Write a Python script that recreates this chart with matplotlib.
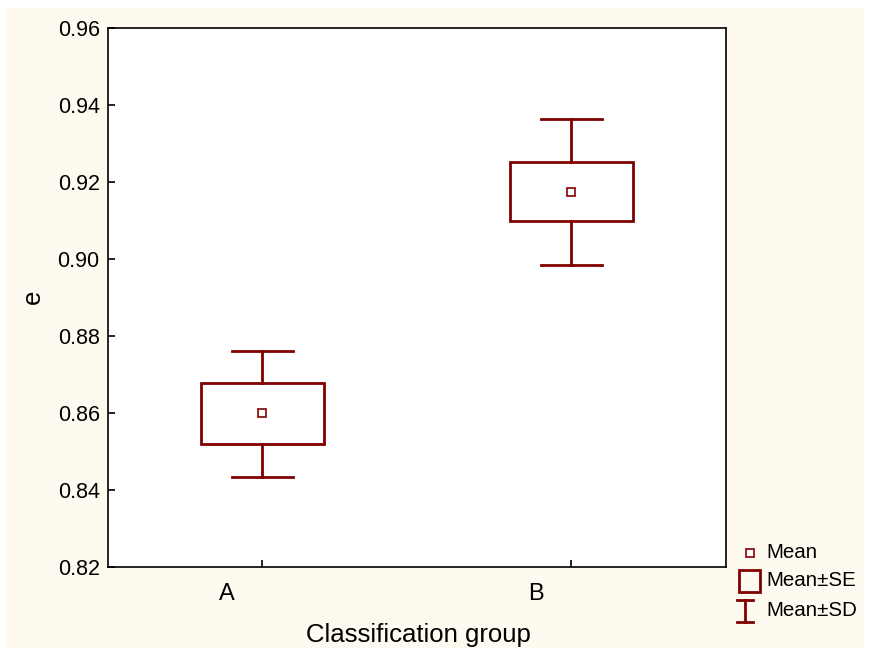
import matplotlib.pyplot as plt
from matplotlib.patches import Rectangle
from matplotlib.lines import Line2D

groups = ["A", "B"]
means = [0.8600, 0.9174]
se_low = [0.8520, 0.9099]
se_high = [0.8678, 0.9252]
sd_low = [0.8434, 0.8985]
sd_high = [0.8762, 0.9364]

red = "#800000"
bg = "#fffaf0"

plt.rcParams["font.family"] = ["Liberation Sans", "DejaVu Sans"]

fig = plt.figure(figsize=(8.7, 6.54), dpi=100)
fig.patch.set_facecolor("white")
# cream panel behind everything
fig.patches.append(Rectangle((6 / 870, 6 / 654), 858 / 870, 640 / 654, transform=fig.transFigure,
                             facecolor=bg, edgecolor="none", zorder=-10))

ax = fig.add_axes([108 / 870, 1 - 567 / 654, 618 / 870, 539 / 654])
ax.set_facecolor("white")

box_w = 0.4
cap_w = 0.2
for i in range(len(groups)):
    # SD whiskers
    ax.plot([i, i], [sd_low[i], se_low[i]], color=red, lw=2)
    ax.plot([i, i], [se_high[i], sd_high[i]], color=red, lw=2)
    ax.plot([i - cap_w / 2, i + cap_w / 2], [sd_low[i], sd_low[i]], color=red, lw=2)
    ax.plot([i - cap_w / 2, i + cap_w / 2], [sd_high[i], sd_high[i]], color=red, lw=2)
    # SE box
    ax.add_patch(Rectangle((i - box_w / 2, se_low[i]), box_w, se_high[i] - se_low[i],
                           facecolor="none", edgecolor=red, lw=2))
    # mean
    ax.plot(i, means[i], marker="s", ms=6, mfc="white", mec=red, mew=1.2)

ax.set_xlim(-0.5, 1.5)
ax.set_ylim(0.82, 0.96)
ax.set_yticks([0.82, 0.84, 0.86, 0.88, 0.90, 0.92, 0.94, 0.96])
ax.set_yticklabels(["%.2f" % v for v in ax.get_yticks()])
ax.set_xticks(range(len(groups)))
ax.set_xticklabels([])
for i, g in enumerate(groups):
    ax.annotate(g, (i, 0), xycoords=("data", "axes fraction"), xytext=(-36, -16),
                textcoords="offset pixels", ha="center", va="top", fontsize=17)
ax.tick_params(direction="in", length=5, width=1.2, labelsize=15.5, pad=6)
for s in ax.spines.values():
    s.set_linewidth(1.2)

fig.text(418 / 870, 1 - 635 / 654, "Classification group", ha="center", va="center", fontsize=18.5)
fig.text(33 / 870, 1 - 297 / 654, "e", ha="center", va="center", rotation=90, fontsize=18.5)

# legend drawn by hand at bottom right
tf = fig.transFigure
def px(x, y):
    return x / 870, 1 - y / 654

fig.add_artist(Line2D(*zip(px(750, 553)), marker="s", ms=6, mfc="white", mec=red, mew=1.2, transform=tf))
fig.patches.append(Rectangle(px(739, 592), 21 / 870, 22 / 654, transform=tf, facecolor="none", edgecolor=red, lw=2))
fig.add_artist(Line2D([745 / 870, 745 / 870], [1 - 600 / 654, 1 - 622 / 654], color=red, lw=2, transform=tf))
fig.add_artist(Line2D([737 / 870, 753 / 870], [1 - 600 / 654, 1 - 600 / 654], color=red, lw=2, transform=tf))
fig.add_artist(Line2D([737 / 870, 753 / 870], [1 - 622 / 654, 1 - 622 / 654], color=red, lw=2, transform=tf))
for y, t in [(553, "Mean"), (581, "Mean±SE"), (610, "Mean±SD")]:
    fig.text(766 / 870, 1 - y / 654, t, ha="left", va="center", fontsize=14.8)

fig.savefig("out.png", dpi=100, facecolor=fig.get_facecolor())
